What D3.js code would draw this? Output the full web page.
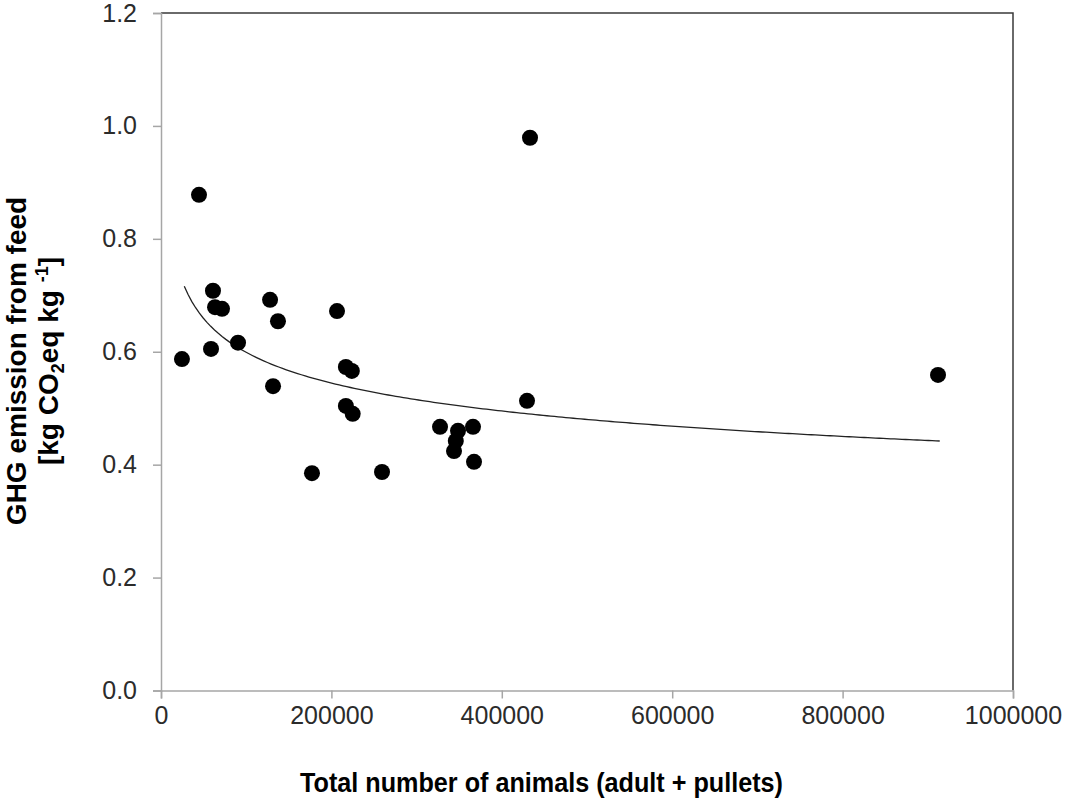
<!DOCTYPE html>
<html>
<head>
<meta charset="utf-8">
<script src="https://cdn.jsdelivr.net/npm/d3@7"></script>
<style>
  body { margin: 0; background: #fff; }
  svg { display: block; font-family: "Liberation Sans", Arial, sans-serif; }
  .tick text { fill: #2b2b2b; }
</style>
</head>
<body>
<div id="chart"></div>
<script>
// animals (adult + pullets) per farm
const animals = [24600, 44600, 61000, 58700, 63400, 71600, 90400, 128000, 131500, 137300,
  177200, 206600, 217000, 224000, 217000, 225000, 259400, 327500, 348600, 366200,
  346000, 343900, 367400, 429600, 433100, 912000];
// GHG emission from feed, kg CO2eq per kg
const emission = [0.587, 0.878, 0.708, 0.605, 0.679, 0.676, 0.616, 0.692, 0.539, 0.654,
  0.385, 0.672, 0.573, 0.566, 0.504, 0.490, 0.387, 0.467, 0.460, 0.467,
  0.442, 0.424, 0.405, 0.513, 0.979, 0.559];
// power trend line y = a * x^b
const trendA = 2.917;
const trendB = -0.1375;
const trendRange = [27350, 914000];

const xTicks = [0, 200000, 400000, 600000, 800000, 1000000];
const yTicks = [0, 0.2, 0.4, 0.6, 0.8, 1.0, 1.2];

const margin = {top: 13, right: 53, bottom: 112.5, left: 161},
  width = 1066 - margin.left - margin.right,
  height = 803 - margin.top - margin.bottom;

const svg = d3.select("#chart").append("svg")
  .attr("width", 1066)
  .attr("height", 803);

const g = svg.append("g")
  .attr("transform", "translate(" + margin.left + "," + margin.top + ")");

const x = d3.scaleLinear().domain([0, 1000000]).range([0, width]);
const y = d3.scaleLinear().domain([0, 1.2]).range([height, 0]);

// top and right frame
g.append("path")
  .attr("d", "M0,0H" + width + "V" + height)
  .attr("fill", "none")
  .attr("stroke", "#3a3a3a")
  .attr("stroke-width", 1.5);

const xAxis = g.append("g")
  .attr("transform", "translate(0," + height + ")")
  .call(d3.axisBottom(x).tickValues(xTicks).tickFormat(d3.format("d")).tickSize(8).tickPadding(8));

const yAxis = g.append("g")
  .call(d3.axisLeft(y).tickValues(yTicks).tickFormat(d3.format(".1f")).tickSize(8).tickPadding(16));

[xAxis, yAxis].forEach(function(a) {
  a.select(".domain").attr("stroke", "#a6a6a6").attr("stroke-width", 1.5);
  a.selectAll(".tick line").attr("stroke", "#a6a6a6").attr("stroke-width", 1.5);
  a.selectAll(".tick text").attr("font-size", 25);
});

// trend line
const trendX = d3.range(0, 201).map(function(i) {
  return trendRange[0] + (trendRange[1] - trendRange[0]) * i / 200;
});
g.append("path")
  .datum(trendX)
  .attr("fill", "none")
  .attr("stroke", "#222")
  .attr("stroke-width", 1.3)
  .attr("d", d3.line()
    .x(function(d) { return x(d); })
    .y(function(d) { return y(trendA * Math.pow(d, trendB)); }));

g.selectAll("circle")
  .data(animals)
  .enter()
  .append("circle")
  .attr("cx", function(d) { return x(d); })
  .attr("cy", function(d, i) { return y(emission[i]); })
  .attr("r", 8)
  .attr("fill", "#000");

// axis titles
svg.append("text")
  .attr("x", 541.5)
  .attr("y", 792)
  .attr("text-anchor", "middle")
  .attr("font-size", 27)
  .attr("font-weight", "bold")
  .attr("textLength", 483)
  .attr("lengthAdjust", "spacingAndGlyphs")
  .text("Total number of animals (adult + pullets)");

const yTitle = svg.append("text")
  .attr("transform", "translate(0,361) rotate(-90)")
  .attr("text-anchor", "middle")
  .attr("font-size", 28)
  .attr("font-weight", "bold");

yTitle.append("tspan")
  .attr("x", 0)
  .attr("y", 26)
  .text("GHG emission from feed");

const line2 = yTitle.append("tspan")
  .attr("x", 0)
  .attr("y", 58);
line2.append("tspan").text("[kg CO");
line2.append("tspan").attr("font-size", 18).attr("dy", 6).text("2");
line2.append("tspan").attr("dy", -6).text("eq kg ");
line2.append("tspan").attr("font-size", 18).attr("dy", -10).text("-1");
line2.append("tspan").attr("dy", 10).text("]");
</script>
</body>
</html>
